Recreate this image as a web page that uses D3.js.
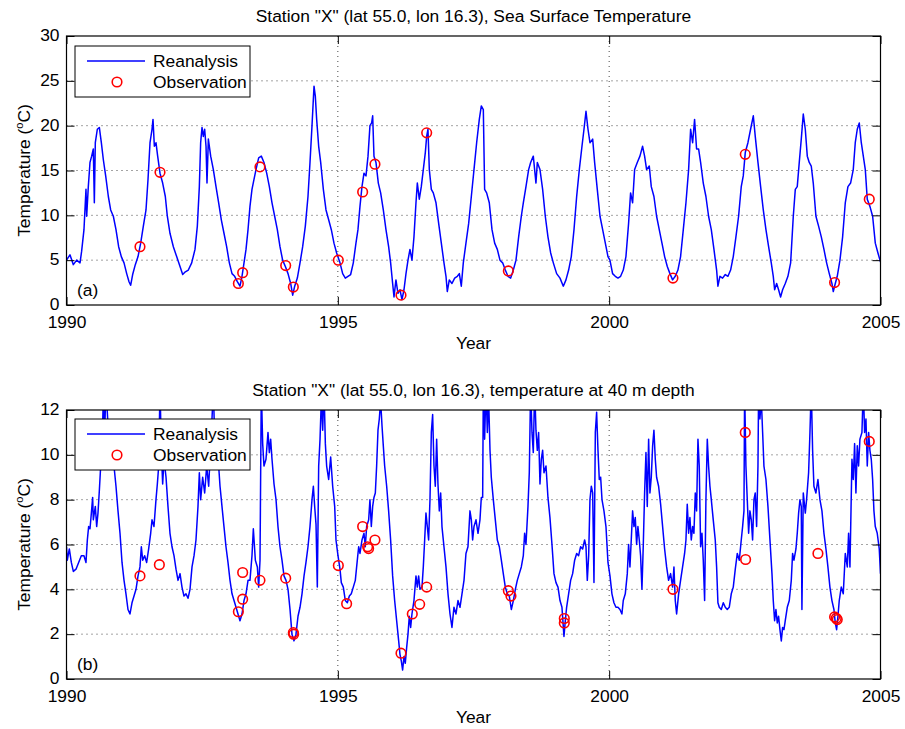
<!DOCTYPE html>
<html><head><meta charset="utf-8">
<script src="https://cdn.jsdelivr.net/npm/d3@7"></script>
<style>
body{margin:0;background:#fff;}
text{font-family:"Liberation Sans",Arial,Helvetica,sans-serif;fill:#000;}
</style></head>
<body><svg id="c" width="905" height="729"></svg>
<script>
// ---------- DATA ----------
const xTicks = [1990, 1995, 2000, 2005];
const sstTicks = [0, 5, 10, 15, 20, 25, 30];
const deepTicks = [0, 2, 4, 6, 8, 10, 12];
const titles = ['Station "X" (lat 55.0, lon 16.3), Sea Surface Temperature',
                'Station "X" (lat 55.0, lon 16.3), temperature at 40 m depth'];
const panelLabels = ["(a)", "(b)"];
const legendLabels = ["Reanalysis", "Observation"];

// Reanalysis SST [year, °C]
const reanalysisSST = [
[1990.000,5.0],[1990.064,5.6],[1990.126,4.5],[1990.187,5.0],[1990.249,4.7],[1990.279,6.0],[1990.322,8.4],[1990.359,12.9],[1990.372,9.9],[1990.402,13.2],[1990.433,15.9],[1990.464,16.6],[1990.494,17.4],[1990.513,11.4],[1990.531,18.1],[1990.568,19.6],[1990.605,19.8],[1990.642,18.1],[1990.679,16.2],[1990.722,14.4],[1990.771,12.1],[1990.814,10.6],[1990.863,9.9],[1990.912,8.4],[1990.961,6.5],
[1991.010,5.4],[1991.060,4.7],[1991.109,3.5],[1991.152,2.6],[1991.182,2.2],[1991.219,3.4],[1991.268,4.5],[1991.318,5.4],[1991.367,6.9],[1991.416,8.8],[1991.465,10.6],[1991.502,14.0],[1991.539,18.1],[1991.576,19.6],[1991.594,20.7],[1991.619,17.7],[1991.649,18.1],[1991.680,16.6],[1991.723,14.7],[1991.772,13.6],[1991.821,12.1],[1991.858,9.9],[1991.907,8.0],[1991.969,6.5],
[1992.030,5.4],[1992.092,4.3],[1992.141,3.4],[1992.190,3.7],[1992.245,3.9],[1992.307,4.7],[1992.368,6.2],[1992.411,8.8],[1992.448,13.2],[1992.472,18.1],[1992.497,19.8],[1992.521,18.8],[1992.546,19.6],[1992.571,17.7],[1992.589,13.6],[1992.614,18.5],[1992.657,16.6],[1992.706,15.1],[1992.755,13.2],[1992.804,11.4],[1992.853,9.5],[1992.902,8.0],[1992.951,6.5],
[1993.001,4.7],[1993.050,3.5],[1993.099,3.2],[1993.148,2.6],[1993.197,2.1],[1993.234,3.2],[1993.271,4.7],[1993.308,6.2],[1993.345,8.4],[1993.381,11.0],[1993.418,12.9],[1993.455,14.0],[1993.492,15.1],[1993.541,16.4],[1993.590,16.6],[1993.639,15.9],[1993.689,14.7],[1993.738,13.2],[1993.787,11.4],[1993.836,9.9],[1993.885,8.4],[1993.934,6.5],[1993.983,5.0],
[1994.033,4.3],[1994.082,3.5],[1994.131,2.4],[1994.168,1.1],[1994.205,2.1],[1994.254,3.0],[1994.303,4.7],[1994.352,6.5],[1994.401,8.8],[1994.450,12.1],[1994.487,15.9],[1994.524,20.0],[1994.561,24.4],[1994.585,23.3],[1994.610,20.7],[1994.647,17.7],[1994.684,15.9],[1994.733,12.9],[1994.782,10.6],[1994.831,9.5],[1994.880,8.4],[1994.929,6.9],[1994.978,5.8],
[1995.040,4.7],[1995.089,3.5],[1995.138,3.0],[1995.187,3.2],[1995.236,3.4],[1995.285,4.7],[1995.334,6.9],[1995.371,8.4],[1995.408,11.0],[1995.445,13.2],[1995.482,14.7],[1995.519,14.4],[1995.556,16.6],[1995.592,20.0],[1995.623,20.3],[1995.642,21.1],[1995.666,16.6],[1995.703,15.9],[1995.746,13.6],[1995.789,12.5],[1995.838,10.6],[1995.887,8.4],[1995.936,6.5],[1995.973,4.7],
[1996.010,2.4],[1996.035,0.9],[1996.071,2.8],[1996.108,1.3],[1996.145,1.7],[1996.182,0.6],[1996.219,1.7],[1996.256,3.5],[1996.293,5.0],[1996.329,6.2],[1996.366,5.0],[1996.403,7.6],[1996.440,11.4],[1996.465,13.6],[1996.501,11.8],[1996.538,13.2],[1996.575,15.1],[1996.612,17.0],[1996.637,18.8],[1996.661,19.6],[1996.686,15.1],[1996.723,12.9],[1996.759,12.5],[1996.809,11.4],[1996.858,9.1],[1996.907,6.9],[1996.956,4.7],[1996.993,3.2],
[1997.017,1.5],[1997.054,2.8],[1997.103,2.4],[1997.153,3.0],[1997.202,3.2],[1997.239,3.5],[1997.275,2.1],[1997.312,4.7],[1997.361,6.9],[1997.411,9.1],[1997.460,12.1],[1997.509,15.1],[1997.558,18.1],[1997.607,20.7],[1997.644,22.2],[1997.681,21.8],[1997.705,12.9],[1997.742,12.5],[1997.791,11.4],[1997.841,8.4],[1997.890,6.9],[1997.939,6.2],[1997.988,5.0],
[1998.037,4.7],[1998.086,3.9],[1998.135,3.2],[1998.185,3.0],[1998.234,3.9],[1998.283,5.0],[1998.332,7.6],[1998.381,9.9],[1998.418,11.4],[1998.467,13.2],[1998.516,15.1],[1998.553,15.9],[1998.602,16.6],[1998.651,13.6],[1998.676,15.9],[1998.725,15.1],[1998.774,12.9],[1998.823,9.9],[1998.872,7.6],[1998.922,5.8],[1998.971,4.7],
[1999.032,3.5],[1999.094,3.0],[1999.155,2.1],[1999.204,2.8],[1999.253,3.9],[1999.302,5.4],[1999.352,8.4],[1999.401,12.1],[1999.450,15.1],[1999.499,17.7],[1999.536,19.6],[1999.573,21.6],[1999.610,19.6],[1999.646,18.1],[1999.696,18.5],[1999.732,15.9],[1999.781,12.9],[1999.831,9.9],[1999.880,8.4],[1999.929,6.9],[1999.978,5.4],
[2000.014,5.0],[2000.063,3.5],[2000.113,3.2],[2000.162,3.0],[2000.211,3.2],[2000.260,3.9],[2000.309,5.4],[2000.358,9.1],[2000.395,12.5],[2000.432,11.4],[2000.469,15.1],[2000.518,15.9],[2000.567,16.6],[2000.616,17.7],[2000.653,16.6],[2000.690,15.1],[2000.739,15.5],[2000.776,13.2],[2000.825,12.1],[2000.874,9.9],[2000.923,8.4],[2000.973,6.9],
[2001.022,5.4],[2001.071,4.3],[2001.120,3.5],[2001.169,2.8],[2001.218,3.2],[2001.267,3.9],[2001.316,5.4],[2001.366,8.4],[2001.415,11.4],[2001.464,15.1],[2001.501,19.6],[2001.538,18.1],[2001.574,20.7],[2001.611,17.4],[2001.648,17.4],[2001.685,15.9],[2001.734,13.6],[2001.783,12.1],[2001.832,9.9],[2001.882,8.4],[2001.931,6.2],[2001.980,3.9],
[2002.004,2.1],[2002.041,3.2],[2002.090,3.0],[2002.140,3.4],[2002.189,3.2],[2002.238,3.9],[2002.287,5.4],[2002.336,7.6],[2002.385,9.9],[2002.434,13.2],[2002.471,14.4],[2002.508,17.0],[2002.557,18.1],[2002.606,19.6],[2002.656,21.1],[2002.692,18.8],[2002.742,15.9],[2002.791,13.2],[2002.840,10.6],[2002.889,8.4],[2002.938,6.5],[2002.987,4.7],
[2003.024,3.2],[2003.049,1.7],[2003.086,2.4],[2003.122,1.7],[2003.159,0.9],[2003.196,1.7],[2003.245,2.4],[2003.294,3.2],[2003.344,4.7],[2003.393,9.9],[2003.430,12.9],[2003.466,13.2],[2003.503,15.9],[2003.540,18.5],[2003.577,21.3],[2003.614,19.6],[2003.651,16.6],[2003.687,15.9],[2003.724,15.5],[2003.761,13.6],[2003.810,9.9],[2003.859,8.8],[2003.909,7.6],[2003.958,6.2],
[2004.007,4.7],[2004.056,3.5],[2004.105,2.4],[2004.130,1.5],[2004.167,2.4],[2004.203,3.2],[2004.253,5.0],[2004.302,7.6],[2004.351,11.4],[2004.400,13.2],[2004.449,13.6],[2004.498,15.1],[2004.535,18.1],[2004.572,19.6],[2004.609,20.3],[2004.646,18.1],[2004.683,16.6],[2004.720,15.1],[2004.756,11.8],[2004.805,11.0],[2004.855,9.9],[2004.904,6.9],[2004.953,5.8],[2004.990,5.0],[2005.000,4.8]
];

// Observed SST [year, °C]
const observedSST = [
[1991.354,6.5],[1991.723,14.8],[1993.167,2.4],[1993.246,3.6],[1993.565,15.4],[1994.039,4.4],[1994.180,2.0],[1995.009,5.0],[1995.457,12.6],[1995.684,15.7],[1996.164,1.1],[1996.637,19.2],[1998.142,3.8],[2001.175,3.0],[2002.508,16.8],[2004.154,2.5],[2004.793,11.8]
];

// Reanalysis temperature at 40 m [year, °C]
const reanalysis40m = [
[1990.000,5.9],[1990.015,5.3],[1990.052,5.8],[1990.089,5.2],[1990.126,4.8],[1990.175,4.9],[1990.224,5.2],[1990.273,5.5],[1990.322,5.5],[1990.359,5.2],[1990.384,6.2],[1990.408,6.8],[1990.433,6.7],[1990.458,7.4],[1990.482,8.1],[1990.494,7.1],[1990.531,7.7],[1990.556,6.8],[1990.580,7.4],[1990.605,8.4],[1990.630,9.5],[1990.654,10.2],[1990.679,12.6],[1990.703,11.0],[1990.728,13.0],[1990.765,11.3],[1990.802,10.2],[1990.838,9.8],[1990.875,9.5],[1990.912,8.6],[1990.949,7.5],[1990.986,6.5],
[1991.023,5.2],[1991.060,4.4],[1991.096,3.8],[1991.133,3.1],[1991.170,2.9],[1991.207,3.4],[1991.244,3.7],[1991.281,4.0],[1991.318,4.6],[1991.354,5.0],[1991.379,5.9],[1991.404,5.3],[1991.440,5.5],[1991.477,5.2],[1991.514,5.8],[1991.551,6.5],[1991.576,7.1],[1991.612,6.8],[1991.649,8.0],[1991.674,8.7],[1991.699,9.5],[1991.723,13.0],[1991.748,10.2],[1991.772,8.7],[1991.797,9.8],[1991.834,9.0],[1991.870,7.7],[1991.907,6.5],[1991.944,5.9],[1991.981,5.5],
[1992.018,4.9],[1992.055,4.4],[1992.092,4.7],[1992.128,4.1],[1992.165,3.7],[1992.202,3.8],[1992.239,3.6],[1992.276,4.0],[1992.313,5.0],[1992.350,5.5],[1992.386,6.2],[1992.423,7.7],[1992.448,9.2],[1992.472,8.0],[1992.509,9.0],[1992.546,8.3],[1992.583,9.5],[1992.620,8.6],[1992.657,10.5],[1992.681,11.6],[1992.706,13.0],[1992.730,10.7],[1992.767,9.8],[1992.804,9.5],[1992.829,8.6],[1992.865,7.7],[1992.902,6.8],[1992.939,5.9],[1992.976,5.2],
[1993.013,4.4],[1993.050,3.8],[1993.087,3.5],[1993.124,3.2],[1993.160,2.9],[1993.197,2.6],[1993.234,2.9],[1993.271,3.5],[1993.308,3.8],[1993.345,4.4],[1993.381,4.4],[1993.418,5.5],[1993.443,6.7],[1993.480,5.3],[1993.517,5.0],[1993.541,4.1],[1993.566,5.3],[1993.590,13.0],[1993.615,10.5],[1993.639,9.5],[1993.676,9.8],[1993.713,11.0],[1993.738,10.1],[1993.762,10.7],[1993.787,9.8],[1993.824,8.7],[1993.861,8.0],[1993.897,6.8],[1993.934,5.9],[1993.971,5.3],
[1994.008,4.6],[1994.045,4.4],[1994.082,4.0],[1994.119,3.1],[1994.155,2.0],[1994.192,1.7],[1994.229,2.0],[1994.266,2.8],[1994.303,3.2],[1994.340,3.8],[1994.377,4.6],[1994.413,5.2],[1994.450,5.9],[1994.487,6.8],[1994.524,8.0],[1994.549,8.6],[1994.573,7.7],[1994.598,6.9],[1994.622,4.1],[1994.647,9.5],[1994.672,10.7],[1994.696,12.5],[1994.721,11.1],[1994.745,13.0],[1994.770,10.5],[1994.794,9.5],[1994.831,8.9],[1994.868,9.9],[1994.905,8.6],[1994.942,7.7],[1994.966,6.2],
[1995.003,5.5],[1995.040,4.9],[1995.064,4.3],[1995.101,4.1],[1995.138,3.5],[1995.175,3.4],[1995.212,3.7],[1995.248,3.8],[1995.285,4.1],[1995.322,4.4],[1995.359,5.3],[1995.384,5.9],[1995.408,5.6],[1995.445,6.2],[1995.482,6.5],[1995.506,5.9],[1995.531,6.8],[1995.568,7.1],[1995.592,8.0],[1995.617,6.8],[1995.642,7.7],[1995.666,8.1],[1995.691,8.3],[1995.715,9.5],[1995.740,11.1],[1995.764,11.6],[1995.789,12.4],[1995.814,11.3],[1995.838,10.4],[1995.863,9.5],[1995.900,8.6],[1995.936,7.5],[1995.973,6.2],
[1996.010,4.6],[1996.047,3.5],[1996.084,2.6],[1996.121,1.7],[1996.145,1.1],[1996.170,0.8],[1996.194,0.4],[1996.219,1.0],[1996.243,0.7],[1996.268,1.4],[1996.293,2.0],[1996.317,2.8],[1996.342,2.3],[1996.366,2.9],[1996.403,3.5],[1996.440,4.6],[1996.465,4.1],[1996.489,4.6],[1996.514,4.0],[1996.551,4.1],[1996.575,5.0],[1996.600,6.2],[1996.624,7.4],[1996.649,6.8],[1996.673,6.2],[1996.698,8.0],[1996.723,11.0],[1996.747,11.8],[1996.772,9.5],[1996.796,8.6],[1996.821,10.7],[1996.845,8.7],[1996.870,7.5],[1996.895,8.3],[1996.919,6.8],[1996.956,5.9],[1996.993,5.0],
[1997.030,3.8],[1997.067,2.9],[1997.103,2.3],[1997.140,3.2],[1997.177,2.9],[1997.214,3.5],[1997.251,3.2],[1997.288,3.8],[1997.325,4.4],[1997.361,5.6],[1997.398,5.9],[1997.435,7.5],[1997.460,7.1],[1997.484,6.2],[1997.509,6.8],[1997.546,7.1],[1997.583,6.5],[1997.619,7.1],[1997.644,8.1],[1997.669,8.1],[1997.681,13.0],[1997.705,10.7],[1997.730,13.0],[1997.755,11.0],[1997.779,12.5],[1997.804,10.2],[1997.828,9.0],[1997.865,8.0],[1997.902,7.1],[1997.939,6.2],[1997.976,5.9],
[1998.013,5.3],[1998.049,4.7],[1998.086,4.1],[1998.123,3.8],[1998.160,3.7],[1998.197,3.1],[1998.234,3.5],[1998.271,4.0],[1998.307,4.4],[1998.344,4.7],[1998.381,5.0],[1998.418,5.5],[1998.442,6.5],[1998.467,6.0],[1998.504,7.7],[1998.528,9.2],[1998.553,13.0],[1998.578,11.0],[1998.602,10.1],[1998.627,13.0],[1998.651,11.1],[1998.676,10.2],[1998.700,11.0],[1998.725,8.7],[1998.750,9.8],[1998.774,10.2],[1998.799,9.2],[1998.836,9.5],[1998.872,8.1],[1998.909,7.2],[1998.946,6.0],[1998.983,4.7],
[1999.020,4.3],[1999.057,4.1],[1999.094,3.5],[1999.130,3.2],[1999.167,1.9],[1999.192,2.6],[1999.216,3.2],[1999.253,3.8],[1999.290,4.4],[1999.327,4.7],[1999.364,5.3],[1999.401,5.6],[1999.437,5.5],[1999.474,5.9],[1999.511,5.8],[1999.548,6.2],[1999.573,5.9],[1999.597,4.4],[1999.622,5.5],[1999.646,8.0],[1999.671,8.6],[1999.696,8.3],[1999.720,4.3],[1999.745,11.0],[1999.769,11.9],[1999.794,10.2],[1999.818,8.9],[1999.843,9.0],[1999.868,8.0],[1999.904,7.5],[1999.941,6.8],[1999.978,5.2],
[2000.015,4.6],[2000.051,3.8],[2000.088,3.4],[2000.125,3.2],[2000.162,3.2],[2000.199,3.1],[2000.235,2.9],[2000.260,3.5],[2000.297,3.8],[2000.334,4.7],[2000.358,6.0],[2000.383,5.0],[2000.407,6.2],[2000.432,7.5],[2000.457,6.8],[2000.481,7.2],[2000.506,6.0],[2000.530,6.8],[2000.555,6.2],[2000.579,5.5],[2000.604,4.0],[2000.629,6.0],[2000.653,8.3],[2000.678,10.1],[2000.702,7.7],[2000.727,10.7],[2000.751,8.3],[2000.776,9.0],[2000.801,10.4],[2000.825,11.1],[2000.850,9.8],[2000.874,9.0],[2000.911,8.6],[2000.948,7.8],[2000.985,6.8],
[2001.022,5.8],[2001.059,5.0],[2001.095,4.4],[2001.132,4.7],[2001.169,4.1],[2001.194,5.0],[2001.218,3.5],[2001.243,2.9],[2001.280,3.8],[2001.316,4.4],[2001.353,5.0],[2001.390,5.6],[2001.415,6.2],[2001.439,7.8],[2001.464,6.5],[2001.488,7.2],[2001.513,6.2],[2001.538,6.8],[2001.562,6.5],[2001.587,8.3],[2001.611,7.5],[2001.636,10.7],[2001.660,9.5],[2001.685,5.9],[2001.710,6.5],[2001.734,5.3],[2001.759,3.5],[2001.783,8.0],[2001.808,10.7],[2001.832,9.5],[2001.857,8.6],[2001.882,8.0],[2001.918,7.1],[2001.955,6.2],[2001.980,5.0],
[2002.004,3.4],[2002.029,3.2],[2002.066,3.1],[2002.103,3.4],[2002.140,3.2],[2002.176,3.1],[2002.213,3.2],[2002.250,3.8],[2002.287,4.1],[2002.324,4.9],[2002.361,5.6],[2002.398,5.3],[2002.434,6.2],[2002.459,6.8],[2002.484,7.5],[2002.496,13.0],[2002.520,9.5],[2002.545,8.0],[2002.570,6.5],[2002.594,7.5],[2002.619,7.1],[2002.643,6.2],[2002.668,8.0],[2002.692,8.3],[2002.717,6.8],[2002.742,9.5],[2002.754,13.0],[2002.778,11.6],[2002.803,12.5],[2002.828,11.0],[2002.852,9.5],[2002.889,8.9],[2002.926,7.7],[2002.963,6.2],
[2003.000,4.7],[2003.024,3.5],[2003.049,2.6],[2003.073,3.1],[2003.098,2.5],[2003.122,2.8],[2003.147,2.2],[2003.172,1.7],[2003.196,2.3],[2003.221,2.2],[2003.245,2.6],[2003.282,3.2],[2003.319,3.5],[2003.356,4.4],[2003.380,5.6],[2003.405,5.3],[2003.442,5.8],[2003.466,6.5],[2003.491,7.4],[2003.516,8.0],[2003.540,7.7],[2003.552,3.1],[2003.577,8.3],[2003.614,7.4],[2003.638,8.0],[2003.675,9.2],[2003.700,11.0],[2003.724,13.0],[2003.749,10.2],[2003.773,8.6],[2003.810,8.3],[2003.847,8.9],[2003.884,8.0],[2003.921,7.5],[2003.958,6.5],[2003.995,5.8],
[2004.031,5.0],[2004.068,4.1],[2004.105,3.5],[2004.142,3.1],[2004.167,2.5],[2004.191,2.2],[2004.216,2.8],[2004.240,3.5],[2004.277,4.1],[2004.314,3.8],[2004.351,5.6],[2004.388,5.0],[2004.412,6.5],[2004.437,5.0],[2004.474,9.8],[2004.498,8.9],[2004.523,10.5],[2004.547,8.3],[2004.572,10.4],[2004.596,9.5],[2004.621,10.7],[2004.658,11.0],[2004.683,13.0],[2004.707,11.0],[2004.732,11.6],[2004.756,9.5],[2004.781,11.0],[2004.805,10.2],[2004.830,9.8],[2004.855,8.9],[2004.879,7.5],[2004.904,6.8],[2004.940,6.5],[2004.977,5.8],[2005.000,4.7]
];

// Observed temperature at 40 m [year, °C]
const observed40m = [
[1991.354,4.6],[1991.711,5.1],[1993.167,3.0],[1993.246,4.75],[1993.246,3.56],[1993.565,4.4],[1994.039,4.5],[1994.180,2.07],[1994.186,2.0],[1995.009,5.06],[1995.162,3.36],[1995.457,6.8],[1995.549,5.9],[1995.567,5.82],[1995.684,6.2],[1996.164,1.15],[1996.372,2.9],[1996.508,3.33],[1996.637,4.1],[1998.142,3.94],[1998.190,3.7],[1999.173,2.7],[1999.173,2.5],[2001.175,4.0],[2002.508,11.0],[2002.514,5.33],[2003.847,5.6],[2004.154,2.77],[2004.185,2.71],[2004.203,2.65],[2004.793,10.6]
];

// ---------- DRAW ----------
const svg = d3.select("#c");
svg.append("rect").attr("width",905).attr("height",729).attr("fill","#fff");
const FS = 17.4;
const x = d3.scaleLinear().domain([1990, 2005]).range([66.5, 880.5]);

const panels = [
  {top:36, bottom:305, ymax:30, yt:sstTicks, line:reanalysisSST, obs:observedSST, title:titles[0], lab:panelLabels[0], legTop:46},
  {top:410, bottom:679, ymax:12, yt:deepTicks, line:reanalysis40m, obs:observed40m, title:titles[1], lab:panelLabels[1], legTop:419}
];

panels.forEach((p,i)=>{
  const y = d3.scaleLinear().domain([0,p.ymax]).range([p.bottom,p.top]);
  const g = svg.append("g");
  const L = x.range()[0], R = x.range()[1];

  // grid (dotted)
  const grid = g.append("g").attr("stroke","#333").attr("stroke-width",0.9).attr("stroke-dasharray","1,4");
  grid.selectAll(".gy").data(p.yt.slice(1,-1)).join("line")
    .attr("x1",L).attr("x2",R).attr("y1",d=>y(d)).attr("y2",d=>y(d));
  grid.selectAll(".gx").data(xTicks.slice(1,-1)).join("line")
    .attr("y1",p.top).attr("y2",p.bottom).attr("x1",d=>x(d)).attr("x2",d=>x(d));

  // clip
  const cid = "clip"+i;
  svg.append("clipPath").attr("id",cid).append("rect")
    .attr("x",L).attr("y",p.top).attr("width",R-L).attr("height",p.bottom-p.top);

  const line = d3.line().x(d=>x(d[0])).y(d=>y(d[1]));
  g.append("path").datum(p.line).attr("d",line)
    .attr("fill","none").attr("stroke","#0000ff").attr("stroke-width",1.5)
    .attr("stroke-linejoin","round").attr("clip-path",`url(#${cid})`);

  g.append("g").selectAll("circle").data(p.obs).join("circle")
    .attr("cx",d=>x(d[0])).attr("cy",d=>y(d[1])).attr("r",4.8)
    .attr("fill","none").attr("stroke","#ff0000").attr("stroke-width",1.6);

  // axes with inward ticks
  const ax = (gen, tx, ty) => {
    const a = g.append("g").attr("transform",`translate(${tx},${ty})`).call(gen);
    a.select(".domain").remove();
    a.selectAll("text").style("font-size",FS+"px").attr("font-family","Liberation Sans, Arial, sans-serif").attr("fill","#000");
    a.selectAll("line").attr("stroke","#000");
    return a;
  };
  ax(d3.axisBottom(x).tickValues(xTicks).tickFormat(d3.format("d")).tickSize(-8).tickPadding(11), 0, p.bottom);
  ax(d3.axisTop(x).tickValues(xTicks).tickFormat("").tickSize(-8), 0, p.top);
  ax(d3.axisLeft(y).tickValues(p.yt).tickFormat(d3.format("d")).tickSize(-8).tickPadding(7), L, 0)
    .selectAll("text").attr("dy","0.27em");
  ax(d3.axisRight(y).tickValues(p.yt).tickFormat("").tickSize(-8), R, 0);

  g.append("rect").attr("x",L).attr("y",p.top).attr("width",R-L).attr("height",p.bottom-p.top)
    .attr("fill","none").attr("stroke","#000").attr("stroke-width",1.2);

  // title, labels
  g.append("text").attr("x",(L+R)/2).attr("y",p.top-14).attr("text-anchor","middle")
    .style("font-size",FS+"px").text(p.title);
  g.append("text").attr("x",(L+R)/2).attr("y",p.bottom+44).attr("text-anchor","middle")
    .style("font-size",FS+"px").text("Year");
  const yl = g.append("text").attr("transform",`translate(30,${(p.top+p.bottom)/2}) rotate(-90)`)
    .attr("text-anchor","middle").style("font-size",FS+"px");
  yl.append("tspan").text("Temperature (");
  yl.append("tspan").attr("dy",-7).style("font-size","11px").text("o");
  yl.append("tspan").attr("dy",7).text("C)");
  g.append("text").attr("x",77).attr("y",p.bottom-9).style("font-size",FS+"px").text(p.lab);

  // legend
  const lg = g.append("g").attr("transform",`translate(75,${p.legTop})`);
  lg.append("rect").attr("width",175).attr("height",51).attr("fill","#fff").attr("stroke","#000").attr("stroke-width",1);
  lg.append("line").attr("x1",12).attr("x2",70).attr("y1",15).attr("y2",15).attr("stroke","#0000ff").attr("stroke-width",1.3);
  lg.append("circle").attr("cx",42).attr("cy",36).attr("r",4.8).attr("fill","none").attr("stroke","#ff0000").attr("stroke-width",1.6);
  lg.selectAll("text").data(legendLabels).join("text")
    .attr("x",78).attr("y",(d,k)=>15+k*21).attr("dy","0.35em")
    .style("font-size",FS+"px").text(d=>d);
});
</script></body></html>
